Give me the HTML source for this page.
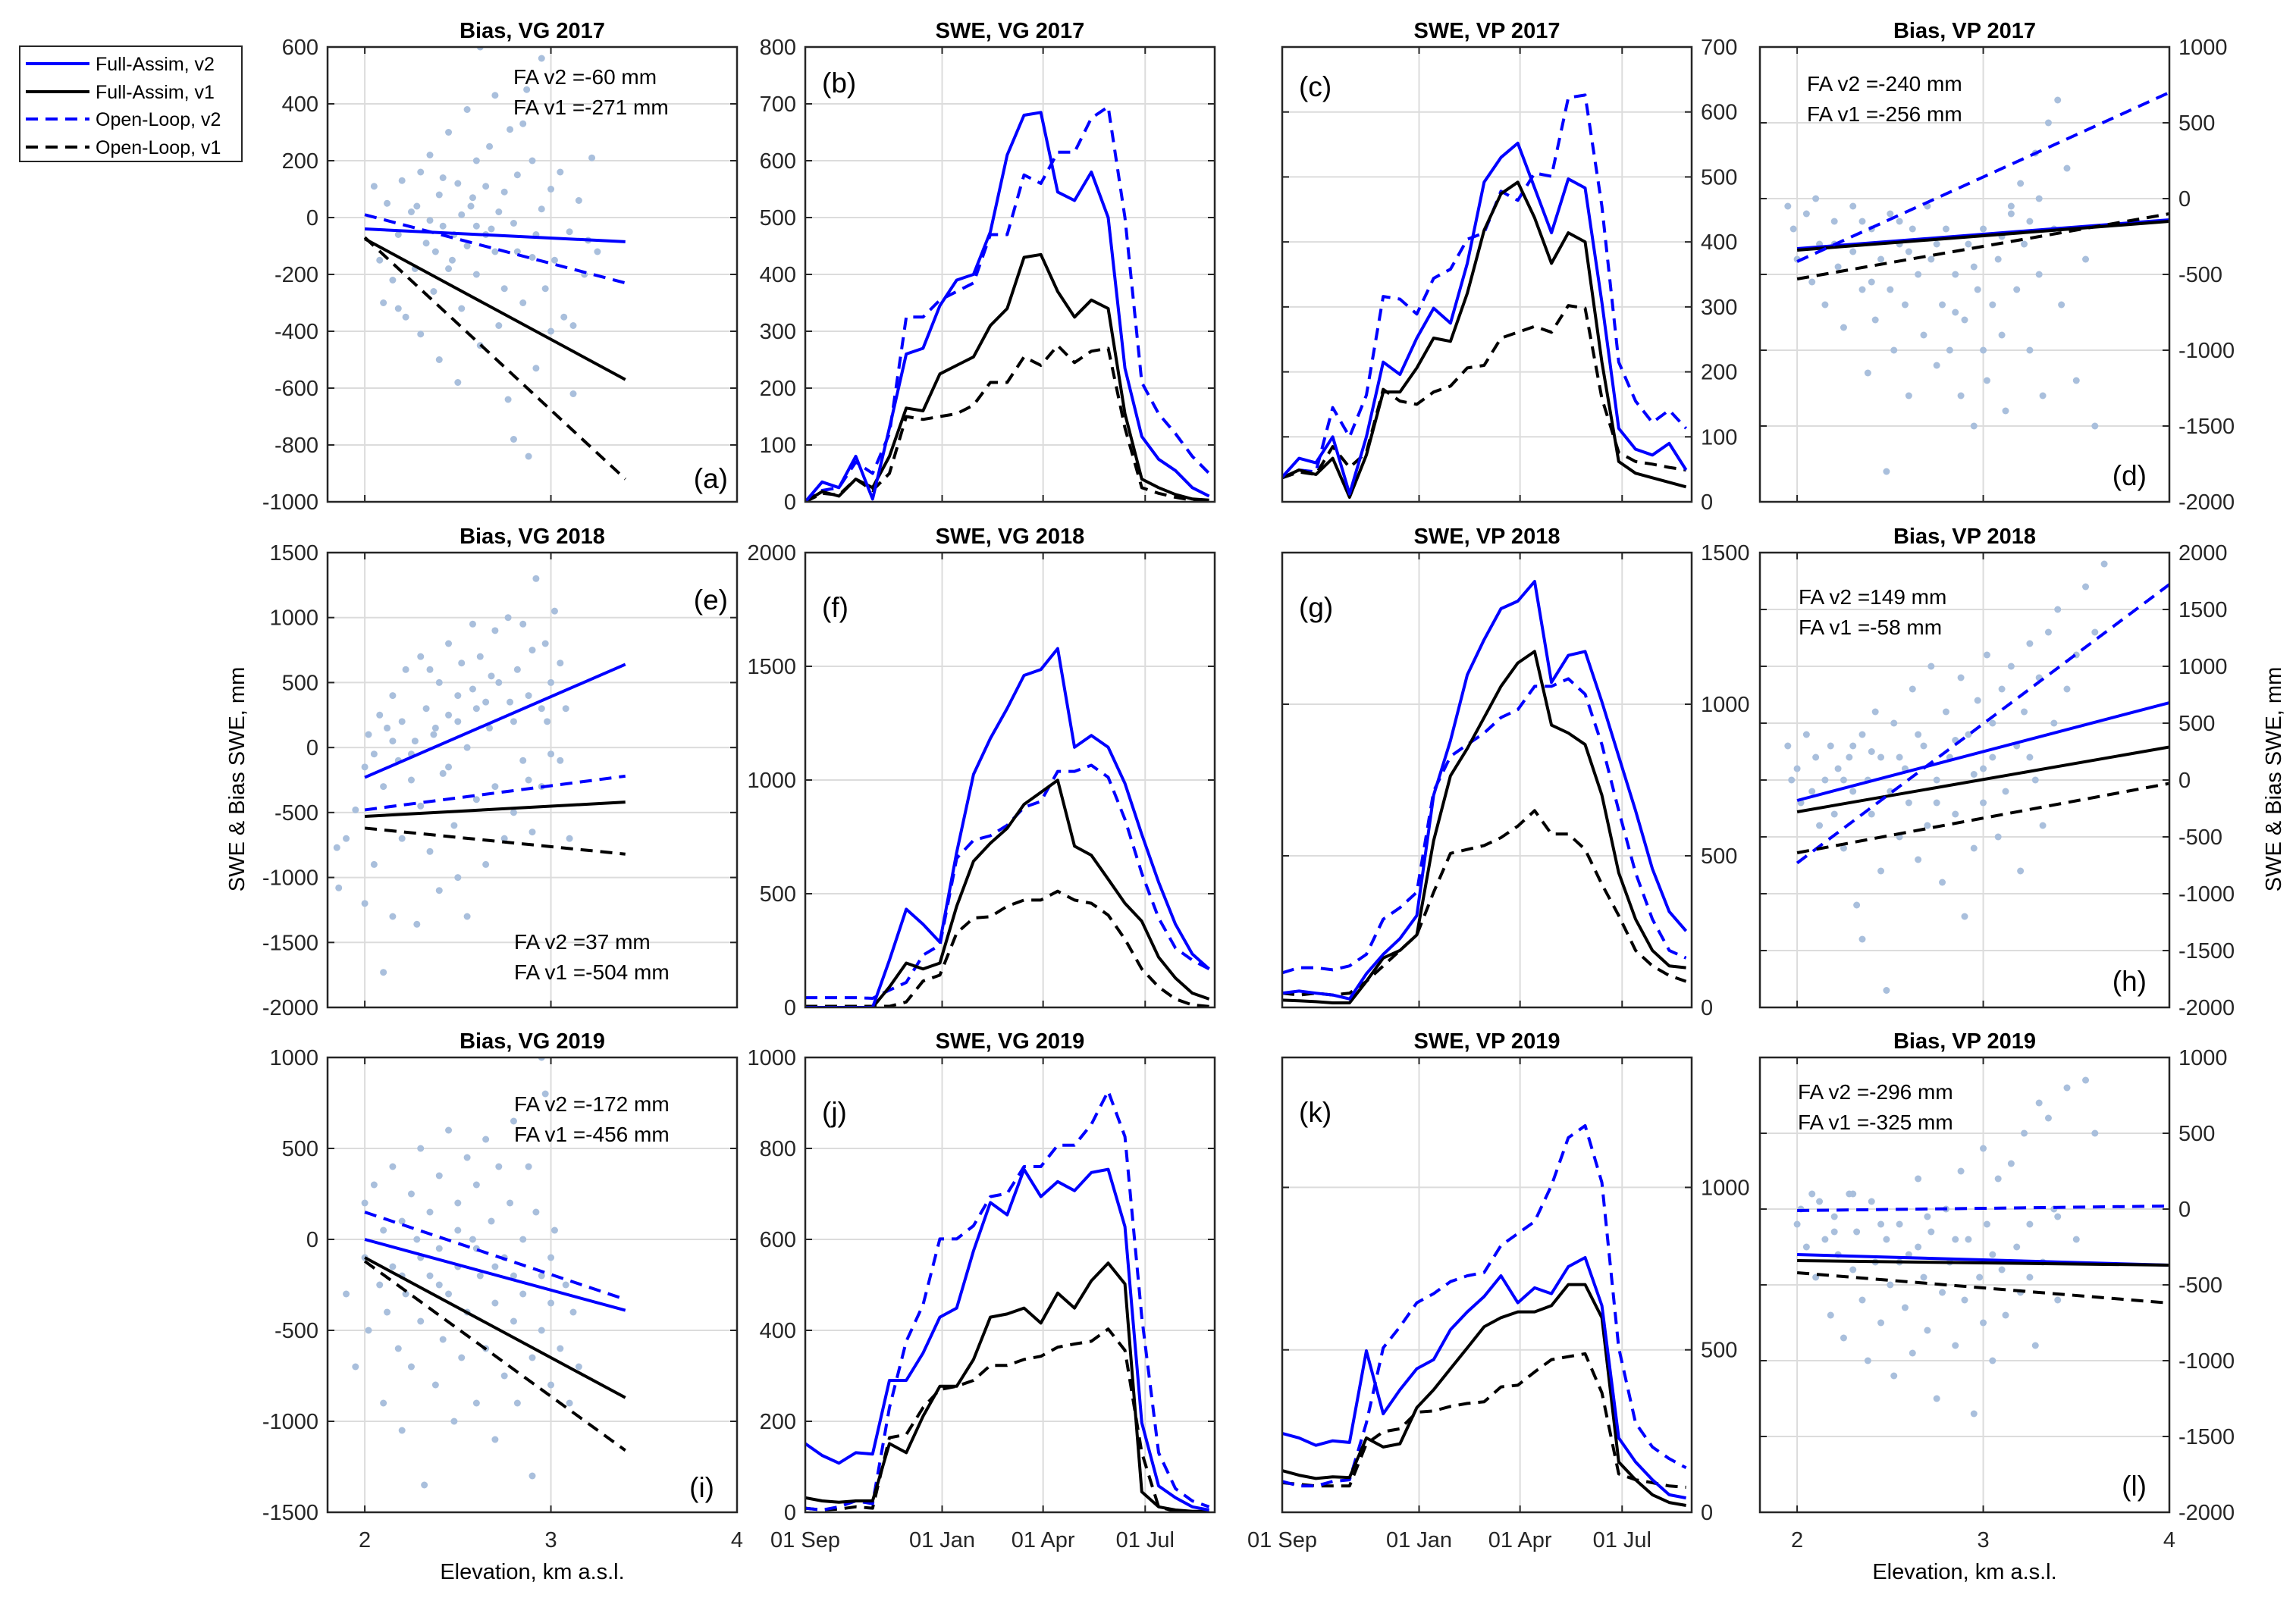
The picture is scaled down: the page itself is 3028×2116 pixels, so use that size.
<!DOCTYPE html>
<html><head><meta charset="utf-8">
<style>
html,body{margin:0;padding:0;background:#fff;}
svg{display:block;font-family:"Liberation Sans",Arial,sans-serif;}
</style></head>
<body>
<svg id="fig" width="3028" height="2116" viewBox="0 0 3028 2116" xmlns="http://www.w3.org/2000/svg">
<rect width="3028" height="2116" fill="#fff"/>
<g id="legend">
 <rect x="26" y="61" width="293" height="152" fill="#fff" stroke="#262626" stroke-width="2"/>
 <g><line x1="34" y1="84" x2="118" y2="84" stroke="#0000ff" stroke-width="4"/><text x="126" y="93" font-size="25">Full-Assim, v2</text></g>
 <g><line x1="34" y1="121" x2="118" y2="121" stroke="#000" stroke-width="4"/><text x="126" y="130" font-size="25">Full-Assim, v1</text></g>
 <g><line x1="34" y1="157" x2="118" y2="157" stroke="#0000ff" stroke-width="4" stroke-dasharray="16,10"/><text x="126" y="166" font-size="25">Open-Loop, v2</text></g>
 <g><line x1="34" y1="194" x2="118" y2="194" stroke="#000" stroke-width="4" stroke-dasharray="16,10"/><text x="126" y="203" font-size="25">Open-Loop, v1</text></g>
</g>
<text transform="translate(322,1028) rotate(-90)" text-anchor="middle" font-size="29" fill="#000">SWE &amp; Bias SWE, mm</text>
<text transform="translate(3008,1028) rotate(-90)" text-anchor="middle" font-size="29" fill="#000">SWE &amp; Bias SWE, mm</text>
<text x="702" y="2083" text-anchor="middle" font-size="29">Elevation, km a.s.l.</text>
<text x="2591" y="2083" text-anchor="middle" font-size="29">Elevation, km a.s.l.</text>
</svg>
<script>
// ---- time-series data (SWE, mm) sampled every 15 days from 01 Sep ----
const days = [0,15,30,45,60,75,90,105,120,135,150,165,180,195,210,225,240,255,270,285,300,315,330,345,360];
const b_fa2 = [0,35,25,80,5,130,260,270,345,390,400,475,610,680,685,545,530,580,500,235,115,75,55,25,10];
const b_fa1 = [0,18,10,40,25,80,165,160,225,240,255,310,340,430,435,370,325,355,340,155,40,25,13,5,3];
const b_ol2 = [0,20,25,70,50,120,325,325,355,370,385,470,470,575,560,615,615,675,695,500,210,155,120,80,50];
const b_ol1 = [0,15,12,40,20,50,150,145,150,155,170,210,210,255,240,275,245,265,270,130,25,15,8,3,0];
const c_fa2 = [38,67,60,100,12,100,215,196,252,298,275,367,492,530,552,483,414,497,483,307,113,81,72,90,49];
const c_fa1 = [37,49,42,67,7,72,169,169,206,252,247,321,418,474,492,437,367,414,400,215,62,44,37,30,23];
const c_ol2 = [37,49,46,145,100,164,316,312,289,344,358,404,414,478,464,506,501,622,626,455,215,155,122,141,113];
const c_ol1 = [37,46,42,85,53,76,173,155,150,169,178,206,210,252,261,270,261,302,298,159,76,62,58,53,49];
const f_fa2 = [0,0,0,0,0,208,432,366,287,682,1025,1183,1315,1460,1486,1578,1144,1196,1144,985,761,551,366,235,169];
const f_fa1 = [0,0,0,0,0,90,195,169,195,445,643,722,788,893,946,999,709,669,564,458,379,221,129,63,37];
const f_ol2 = [43,43,43,43,40,76,110,230,274,656,735,755,801,880,906,1038,1038,1065,1012,827,590,393,261,208,169];
const f_ol1 = [5,5,5,5,5,5,24,116,142,327,393,399,445,472,472,511,472,458,406,300,169,90,37,11,4];
const g_fa2 = [47,54,47,41,28,111,175,227,303,700,880,1097,1213,1315,1340,1405,1072,1161,1174,1008,828,649,457,316,252];
const g_fa1 = [24,22,19,15,15,86,163,188,239,550,764,854,956,1059,1136,1174,931,905,867,700,444,291,188,137,131];
const g_ol2 = [114,131,131,124,137,175,291,329,380,713,828,867,905,956,982,1059,1059,1084,1033,867,649,444,291,188,163];
const g_ol1 = [47,41,47,41,47,86,137,188,239,380,508,521,534,560,598,649,572,572,521,406,303,188,137,105,86];
const j_fa2 = [151,125,108,131,128,290,290,350,429,449,575,681,654,754,694,727,707,747,754,628,197,58,32,12,5];
const j_fa1 = [32,25,22,25,25,151,131,211,277,277,336,429,436,449,416,482,449,509,548,502,45,12,5,2,2];
const j_ol2 = [9,5,12,25,19,230,376,456,601,601,630,694,701,760,760,807,807,853,926,826,429,131,52,25,12];
const j_ol1 = [9,5,7,12,9,164,171,230,270,277,290,323,323,336,343,363,370,376,403,356,131,12,2,0,0];
const k_fa2 = [243,229,206,220,215,497,303,377,442,470,562,617,664,728,645,691,673,756,784,636,229,155,100,54,44];
const k_fa1 = [128,114,104,109,107,229,201,211,322,377,442,506,571,599,617,617,636,701,701,599,155,100,54,30,21];
const k_ol2 = [95,81,81,95,100,275,506,571,645,673,710,728,738,821,858,895,1006,1153,1190,1015,506,275,201,165,137];
const k_ol1 = [91,86,81,81,81,211,248,257,308,312,326,335,340,386,391,432,470,479,488,368,118,100,91,81,77];
// ---- regression lines [x0,y0,x1,y1] (km, mm): FA v2, FA v1, OL v2, OL v1 ----
const a_fit = [[2,-40,3.4,-85],[2,-75,3.4,-570],[2,10,3.4,-230],[2,-70,3.4,-920]];
const e_fit = [[2,-230,3.4,640],[2,-530,3.4,-420],[2,-480,3.4,-220],[2,-620,3.4,-820]];
const i_fit = [[2,0,3.4,-390],[2,-100,3.4,-870],[2,150,3.4,-330],[2,-120,3.4,-1160]];
const d_fit = [[2,-330,4,-140],[2,-340,4,-150],[2,-415,4,700],[2,-530,4,-100]];
const h_fit = [[2,-180,4,680],[2,-280,4,290],[2,-730,4,1720],[2,-640,4,-30]];
const l_fit = [[2,-300,4,-370],[2,-340,4,-370],[2,-10,4,20],[2,-420,4,-620]];
// ---- scatter points [elevation km, bias mm] ----
const a_pts = [[2.05,110],[2.08,-150],[2.1,-300],[2.12,50],[2.15,-220],[2.18,-60],[2.2,130],[2.22,-350],[2.25,20],[2.27,-180],[2.3,160],[2.3,-410],[2.33,-90],[2.35,220],[2.37,-260],[2.4,80],[2.4,-500],[2.42,-30],[2.45,300],[2.47,-150],[2.5,120],[2.5,-580],[2.52,-320],[2.55,380],[2.57,40],[2.6,-200],[2.6,200],[2.62,-450],[2.65,-60],[2.67,250],[2.7,-120],[2.7,430],[2.72,-380],[2.75,90],[2.77,-640],[2.78,310],[2.8,-20],[2.8,-780],[2.82,150],[2.85,-300],[2.87,450],[2.9,-140],[2.9,200],[2.92,-530],[2.95,560],[2.95,30],[2.97,-250],[3.0,100],[3.0,-400],[3.02,-150],[3.05,160],[3.07,-350],[3.1,-50],[3.12,-620],[3.15,60],[3.18,-200],[3.2,-80],[3.22,210],[3.25,-120],[2.88,-840],[2.62,600],[2.45,-180],[2.35,-10],[2.55,-100],[2.65,110],[2.75,-250],[2.85,330],[2.68,-40],[2.58,70],[2.48,-60],[2.38,-120],[2.28,40],[2.18,-320],[2.52,10],[2.72,20],[2.92,-60],[3.12,-380],[2.42,140],[2.6,-30],[2.82,-120]];
const e_pts = [[1.85,-770],[1.86,-1080],[1.9,-700],[1.95,-480],[2.0,-150],[2.0,-1200],[2.02,100],[2.05,-50],[2.05,-900],[2.08,250],[2.1,-1730],[2.1,-300],[2.12,150],[2.15,400],[2.15,-1300],[2.18,-100],[2.2,200],[2.2,-700],[2.22,600],[2.25,-250],[2.27,50],[2.28,-1360],[2.3,700],[2.3,-450],[2.33,300],[2.35,-800],[2.37,100],[2.4,500],[2.4,-1100],[2.42,-200],[2.45,800],[2.45,250],[2.48,-600],[2.5,400],[2.5,-1000],[2.52,650],[2.55,0],[2.55,-1300],[2.58,950],[2.6,300],[2.6,-400],[2.62,700],[2.65,-900],[2.67,150],[2.7,900],[2.7,-300],[2.72,500],[2.75,-700],[2.77,1000],[2.8,200],[2.8,-500],[2.82,600],[2.85,950],[2.85,-100],[2.88,400],[2.9,-650],[2.9,750],[2.92,1300],[2.95,300],[2.95,-300],[2.97,800],[3.0,500],[3.0,-50],[3.02,1050],[3.05,650],[3.05,-100],[3.08,300],[3.1,-700],[2.5,200],[2.35,600],[2.65,350],[2.25,-50],[2.15,50],[2.38,150],[2.58,450],[2.78,350],[2.98,200],[2.45,-150],[2.68,550],[2.88,-250]];
const i_pts = [[1.9,-300],[1.95,-700],[2.0,200],[2.0,-100],[2.02,-500],[2.05,300],[2.08,-250],[2.1,-900],[2.1,50],[2.12,-400],[2.15,400],[2.15,-150],[2.18,-600],[2.2,100],[2.2,-1050],[2.22,-300],[2.25,250],[2.25,-700],[2.28,0],[2.3,500],[2.3,-450],[2.32,-1350],[2.35,150],[2.35,-200],[2.38,-800],[2.4,350],[2.4,-50],[2.42,-550],[2.45,600],[2.45,-300],[2.48,-1000],[2.5,200],[2.5,-150],[2.52,-650],[2.55,450],[2.55,-400],[2.58,0],[2.6,-900],[2.6,300],[2.62,-200],[2.65,550],[2.65,-600],[2.68,100],[2.7,-350],[2.7,-1100],[2.72,400],[2.75,-100],[2.75,-750],[2.78,200],[2.8,-450],[2.8,650],[2.82,-900],[2.85,0],[2.85,-300],[2.88,400],[2.9,-650],[2.9,-1300],[2.92,150],[2.95,-200],[2.95,-500],[2.97,800],[3.0,-350],[3.0,-800],[3.02,50],[3.05,-600],[3.08,-250],[3.1,-900],[3.12,-400],[3.15,-700],[2.95,1000],[2.3,-100],[2.5,50],[2.7,-150],[2.4,-250],[2.6,-50],[2.8,-200],[2.2,-200],[3.0,-100]];
const d_pts = [[1.95,-50],[1.98,-200],[2.0,-400],[2.05,-100],[2.08,-550],[2.1,0],[2.12,-300],[2.15,-700],[2.2,-150],[2.22,-450],[2.25,-850],[2.3,-50],[2.3,-350],[2.35,-600],[2.38,-1150],[2.4,-200],[2.42,-800],[2.45,-400],[2.48,-1800],[2.5,-100],[2.5,-600],[2.52,-1000],[2.55,-300],[2.58,-700],[2.6,-1300],[2.62,-200],[2.65,-500],[2.68,-900],[2.7,-50],[2.72,-400],[2.75,-1100],[2.78,-700],[2.8,-200],[2.82,-1000],[2.85,-500],[2.88,-1300],[2.9,-800],[2.92,-300],[2.95,-1500],[2.97,-600],[3.0,-1000],[3.0,-200],[3.02,-1200],[3.05,-700],[3.08,-400],[3.1,-900],[3.12,-1400],[3.15,-100],[3.18,-600],[3.2,100],[3.22,-300],[3.25,-1000],[3.28,300],[3.3,-500],[3.32,-1300],[3.35,500],[3.38,-200],[3.4,650],[3.42,-700],[3.45,200],[3.5,-1200],[3.55,-400],[3.6,-1500],[3.3,0],[3.15,-50],[2.6,-350],[2.4,-550],[2.2,-300],[2.35,-150],[2.55,-150],[2.75,-300],[2.95,-450],[3.1,-250],[3.25,-150],[2.85,-750]];
const h_pts = [[1.95,300],[1.97,0],[2.0,100],[2.02,-200],[2.05,400],[2.08,-100],[2.1,200],[2.12,-400],[2.15,0],[2.18,300],[2.2,-300],[2.22,100],[2.25,-600],[2.28,200],[2.3,-100],[2.32,-1100],[2.35,400],[2.35,-1400],[2.38,0],[2.4,-300],[2.42,600],[2.45,-800],[2.45,200],[2.48,-1850],[2.5,-100],[2.52,500],[2.55,-500],[2.58,100],[2.6,-200],[2.62,800],[2.65,-700],[2.68,300],[2.7,-400],[2.72,1000],[2.75,0],[2.78,-900],[2.8,600],[2.82,200],[2.85,-300],[2.88,900],[2.9,-1200],[2.92,400],[2.95,-600],[2.97,700],[3.0,100],[3.0,-200],[3.02,1100],[3.05,500],[3.08,-500],[3.1,800],[3.12,-100],[3.15,1000],[3.18,300],[3.2,-800],[3.22,600],[3.25,1200],[3.28,0],[3.3,900],[3.32,-400],[3.35,1300],[3.38,500],[3.4,1500],[3.45,800],[3.5,1100],[3.55,1700],[3.6,1300],[3.65,1900],[3.25,200],[2.55,200],[2.25,0],[2.4,250],[2.65,400],[2.85,350],[3.05,200],[2.3,300],[2.75,-200],[2.95,50]];
const l_pts = [[2.0,-100],[2.02,0],[2.05,-250],[2.08,100],[2.1,-450],[2.12,50],[2.15,-200],[2.18,-700],[2.2,-50],[2.22,-300],[2.25,-850],[2.28,100],[2.3,-400],[2.32,-150],[2.35,-600],[2.38,-1000],[2.4,50],[2.42,-350],[2.45,-750],[2.48,-200],[2.5,-500],[2.52,-1100],[2.55,-100],[2.58,-650],[2.6,-300],[2.62,-950],[2.65,200],[2.68,-450],[2.7,-800],[2.72,-150],[2.75,-1250],[2.78,-550],[2.8,0],[2.82,-350],[2.85,-900],[2.88,250],[2.9,-600],[2.92,-200],[2.95,-1350],[2.98,-450],[3.0,400],[3.0,-750],[3.02,-100],[3.05,-1000],[3.08,200],[3.1,-400],[3.12,-700],[3.15,300],[3.18,-250],[3.2,-550],[3.22,500],[3.25,-100],[3.28,-900],[3.3,700],[3.32,-350],[3.35,600],[3.38,0],[3.4,-600],[3.45,800],[3.5,-200],[3.55,850],[3.6,500],[2.3,100],[2.7,-50],[3.4,-50],[2.2,-150],[2.45,-100],[2.65,-250],[2.85,-200],[3.05,-300],[3.25,-450],[2.55,-350]];
// ---- tick label arrays ----
const elevTicks = [2,3,4];
const dateTickDays = [0,122,212,303];
const dateTickLabels = ["01 Sep","01 Jan","01 Apr","01 Jul"];

const NS = "http://www.w3.org/2000/svg";
const fig = document.getElementById("fig");
function mk(tag, attrs, parent){ const e=document.createElementNS(NS,tag); for(const k in attrs) e.setAttribute(k,attrs[k]); (parent||fig).appendChild(e); return e; }
const colX=[432,1062,1691,2321], rowY=[62,729,1395], W=540, H=600;
const BLUE="#0000ff", GRID="#dcdcdc", PT="#a9bfdc";
const styles=[{c:BLUE,d:null},{c:"#000",d:null},{c:BLUE,d:"16,10"},{c:"#000",d:"16,10"}];
const seriesNames=["full-assim-v2","full-assim-v1","open-loop-v2","open-loop-v1"];

function panel(o){
  const g=mk("g",{});
  
  
  const x0=o.x, y0=o.y;
  const sx=v=>x0+(v-o.xmin)/(o.xmax-o.xmin)*W;
  const sy=v=>y0+H-(v-o.ymin)/(o.ymax-o.ymin)*H;
  // grid
  o.yticks.forEach(t=>{ if(t>o.ymin&&t<o.ymax){ const l=mk("line",{x1:x0,x2:x0+W,y1:sy(t),y2:sy(t),stroke:GRID,"stroke-width":2},g);   }});
  o.xticks.forEach(t=>{ if(t>o.xmin&&t<o.xmax){ const l=mk("line",{x1:sx(t),x2:sx(t),y1:y0,y2:y0+H,stroke:GRID,"stroke-width":2},g);   }});
  const clip="clip-"+o.name;
  const cp=mk("clipPath",{id:clip},g); mk("rect",{x:x0,y:y0,width:W,height:H},cp);
  const pg=mk("g",{"clip-path":"url(#"+clip+")"},g);
  if(o.pts){ o.pts.forEach(p=>{ const c=mk("circle",{cx:sx(p[0]),cy:sy(p[1]),r:4.5,fill:PT},pg);
      }); }
  if(o.fit){ o.fit.forEach((f,i)=>{ const l=mk("line",{x1:sx(f[0]),y1:sy(f[1]),x2:sx(f[2]),y2:sy(f[3]),stroke:styles[i].c,"stroke-width":4},pg);
    if(styles[i].d) l.setAttribute("stroke-dasharray",styles[i].d);
      }); }
  if(o.series){ [3,2,1,0].forEach(i=>{ const s=o.series[i]; const pts=days.map((d,k)=>sx(d).toFixed(1)+","+sy(s[k]).toFixed(1)).join(" ");
    const l=mk("polyline",{points:pts,fill:"none",stroke:styles[i].c,"stroke-width":4,"stroke-linejoin":"round"},pg);
    if(styles[i].d) l.setAttribute("stroke-dasharray",styles[i].d);
      }); }
  // frame
  const fr=mk("rect",{x:x0,y:y0,width:W,height:H,fill:"none",stroke:"#262626","stroke-width":2.5},g);
   
  // y ticks
  o.yticks.forEach(t=>{ const y=sy(t);
    mk("line",{x1:x0,x2:x0+9,y1:y,y2:y,stroke:"#262626","stroke-width":2},g);
    mk("line",{x1:x0+W-9,x2:x0+W,y1:y,y2:y,stroke:"#262626","stroke-width":2},g);
    const tx = o.yside==="left" ? mk("text",{x:x0-12,y:y+10,"text-anchor":"end","font-size":29,fill:"#262626"},g)
                                : mk("text",{x:x0+W+12,y:y+10,"text-anchor":"start","font-size":29,fill:"#262626"},g);
    tx.textContent=t;
      });
  // x ticks
  o.xticks.forEach((t,k)=>{ const x=sx(t);
    mk("line",{x1:x,x2:x,y1:y0+H,y2:y0+H-9,stroke:"#262626","stroke-width":2},g);
    mk("line",{x1:x,x2:x,y1:y0,y2:y0+9,stroke:"#262626","stroke-width":2},g);
    if(o.xlabels){ const tx=mk("text",{x:x,y:y0+H+46,"text-anchor":"middle","font-size":29,fill:"#262626"},g);
      tx.textContent=o.xlabels[k];
        } });
  // title
  const ti=mk("text",{x:x0+W/2,y:y0-12,"text-anchor":"middle","font-size":29,"font-weight":"bold"},g);
  ti.textContent=o.title;  
  // panel letter
  const pl=mk("text",{x:o.lx,y:o.ly,"font-size":37,"text-anchor":o.la||"start"},g);
  pl.textContent=o.letter;  
  if(o.ann){ o.ann.forEach((a,k)=>{ const t=mk("text",{x:o.ax,y:o.ay+k*40,"font-size":28},g); t.textContent=a;
      }); }
}
function rng(a,b,s){const r=[];for(let v=a;v<=b+1e-9;v+=s)r.push(v);return r;}
const elevLabels = r => r===2 ? elevTicks : null;

// Column 1 (Bias VG)
panel({name:"panel-a-bias-vg-2017",x:colX[0],y:rowY[0],xmin:1.8,xmax:4,ymin:-1000,ymax:600,yticks:rng(-1000,600,200),xticks:elevTicks,yside:"left",
 title:"Bias, VG 2017",letter:"(a)",lx:colX[0]+W-12,ly:rowY[0]+H-18,la:"end",pts:a_pts,fit:a_fit,ann:["FA v2 =-60 mm","FA v1 =-271 mm"],ax:677,ay:111});
panel({name:"panel-e-bias-vg-2018",x:colX[0],y:rowY[1],xmin:1.8,xmax:4,ymin:-2000,ymax:1500,yticks:rng(-2000,1500,500),xticks:elevTicks,yside:"left",
 title:"Bias, VG 2018",letter:"(e)",lx:colX[0]+W-12,ly:rowY[1]+75,la:"end",pts:e_pts,fit:e_fit,ann:["FA v2 =37 mm","FA v1 =-504 mm"],ax:678,ay:1252});
panel({name:"panel-i-bias-vg-2019",x:colX[0],y:rowY[2],xmin:1.8,xmax:4,ymin:-1500,ymax:1000,yticks:rng(-1500,1000,500),xticks:elevTicks,yside:"left",xlabels:elevTicks,
 title:"Bias, VG 2019",letter:"(i)",lx:colX[0]+W-30,ly:rowY[2]+H-20,la:"end",pts:i_pts,fit:i_fit,ann:["FA v2 =-172 mm","FA v1 =-456 mm"],ax:678,ay:1466});
// Column 2 (SWE VG)
panel({name:"panel-b-swe-vg-2017",x:colX[1],y:rowY[0],xmin:0,xmax:365,ymin:0,ymax:800,yticks:rng(0,800,100),xticks:dateTickDays,yside:"left",
 title:"SWE, VG 2017",letter:"(b)",lx:colX[1]+22,ly:rowY[0]+60,series:[b_fa2,b_fa1,b_ol2,b_ol1]});
panel({name:"panel-f-swe-vg-2018",x:colX[1],y:rowY[1],xmin:0,xmax:365,ymin:0,ymax:2000,yticks:rng(0,2000,500),xticks:dateTickDays,yside:"left",
 title:"SWE, VG 2018",letter:"(f)",lx:colX[1]+22,ly:rowY[1]+85,series:[f_fa2,f_fa1,f_ol2,f_ol1]});
panel({name:"panel-j-swe-vg-2019",x:colX[1],y:rowY[2],xmin:0,xmax:365,ymin:0,ymax:1000,yticks:rng(0,1000,200),xticks:dateTickDays,yside:"left",xlabels:dateTickLabels,
 title:"SWE, VG 2019",letter:"(j)",lx:colX[1]+22,ly:rowY[2]+85,series:[j_fa2,j_fa1,j_ol2,j_ol1]});
// Column 3 (SWE VP)
panel({name:"panel-c-swe-vp-2017",x:colX[2],y:rowY[0],xmin:0,xmax:365,ymin:0,ymax:700,yticks:rng(0,700,100),xticks:dateTickDays,yside:"right",
 title:"SWE, VP 2017",letter:"(c)",lx:colX[2]+22,ly:rowY[0]+65,series:[c_fa2,c_fa1,c_ol2,c_ol1]});
panel({name:"panel-g-swe-vp-2018",x:colX[2],y:rowY[1],xmin:0,xmax:365,ymin:0,ymax:1500,yticks:rng(0,1500,500),xticks:dateTickDays,yside:"right",
 title:"SWE, VP 2018",letter:"(g)",lx:colX[2]+22,ly:rowY[1]+85,series:[g_fa2,g_fa1,g_ol2,g_ol1]});
panel({name:"panel-k-swe-vp-2019",x:colX[2],y:rowY[2],xmin:0,xmax:365,ymin:0,ymax:1400,yticks:[0,500,1000],xticks:dateTickDays,yside:"right",xlabels:dateTickLabels,
 title:"SWE, VP 2019",letter:"(k)",lx:colX[2]+22,ly:rowY[2]+85,series:[k_fa2,k_fa1,k_ol2,k_ol1]});
// Column 4 (Bias VP)
panel({name:"panel-d-bias-vp-2017",x:colX[3],y:rowY[0],xmin:1.8,xmax:4,ymin:-2000,ymax:1000,yticks:rng(-2000,1000,500),xticks:elevTicks,yside:"right",
 title:"Bias, VP 2017",letter:"(d)",lx:colX[3]+W-30,ly:rowY[0]+H-22,la:"end",pts:d_pts,fit:d_fit,ann:["FA v2 =-240 mm","FA v1 =-256 mm"],ax:2383,ay:120});
panel({name:"panel-h-bias-vp-2018",x:colX[3],y:rowY[1],xmin:1.8,xmax:4,ymin:-2000,ymax:2000,yticks:rng(-2000,2000,500),xticks:elevTicks,yside:"right",
 title:"Bias, VP 2018",letter:"(h)",lx:colX[3]+W-30,ly:rowY[1]+H-22,la:"end",pts:h_pts,fit:h_fit,ann:["FA v2 =149 mm","FA v1 =-58 mm"],ax:2372,ay:797});
panel({name:"panel-l-bias-vp-2019",x:colX[3],y:rowY[2],xmin:1.8,xmax:4,ymin:-2000,ymax:1000,yticks:rng(-2000,1000,500),xticks:elevTicks,yside:"right",xlabels:elevTicks,
 title:"Bias, VP 2019",letter:"(l)",lx:colX[3]+W-30,ly:rowY[2]+H-22,la:"end",pts:l_pts,fit:l_fit,ann:["FA v2 =-296 mm","FA v1 =-325 mm"],ax:2371,ay:1450});
</script>
</body></html>
